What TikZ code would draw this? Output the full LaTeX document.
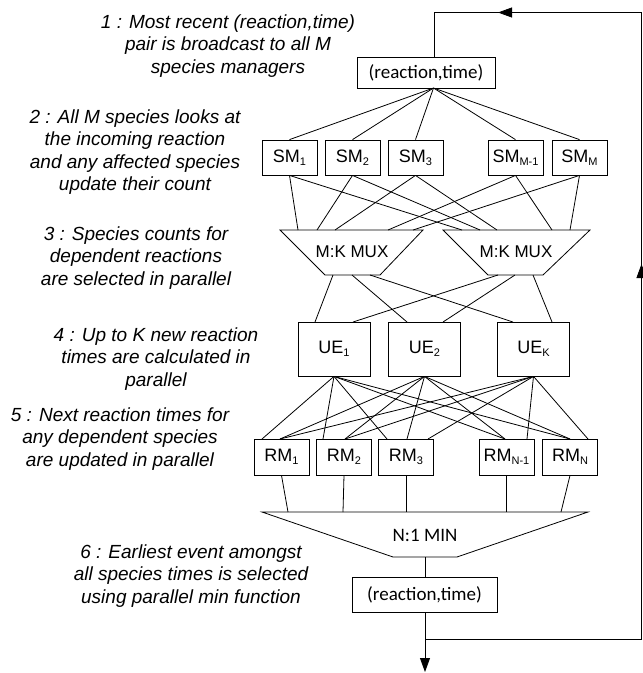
\documentclass[tikz,border=0pt]{standalone}
\usepackage{fontspec}
\setmainfont{Liberation Sans}
\newfontfamily\carl{Carlito}
\usetikzlibrary{arrows.meta}
\newcommand\mysub[1]{\raisebox{-0.3ex}{\fontsize{11}{11}\selectfont #1}}
\begin{document}
\begin{tikzpicture}[x=1pt,y=-1pt,line width=0.8pt,
  box/.style={draw,inner sep=0pt,minimum width=55pt,minimum height=35pt,font=\fontsize{18}{18}\selectfont},
  uebox/.style={draw,inner sep=0pt,minimum width=72pt,minimum height=54pt,font=\fontsize{18}{18}\selectfont},
  rmbox/.style={draw,inner sep=0pt,minimum width=55pt,minimum height=36pt,font=\fontsize{18}{18}\selectfont},
  rt/.style={draw,inner sep=0pt,font=\carl\fontsize{19}{19}\selectfont},
  lbl/.style={align=center,inner sep=0pt,font=\fontsize{19}{22.5}\selectfont\itshape},
  muxtxt/.style={inner sep=0pt,font=\fontsize{17}{17}\selectfont},
  arr/.style={-{Triangle[length=14pt,width=10pt]}}]
\useasboundingbox (0,0) rectangle (643,673);

% labels
\node[lbl] (l1) at (228,46) {1 : Most recent (reaction,time)\\pair is broadcast to all M\\species managers};
\node[lbl] (l2) at (135,152) {2 : All M species looks at\\the incoming reaction\\and any affected species\\update their count};
\node[lbl] (l3) at (136,258) {3 : Species counts for\\dependent reactions\\are selected in parallel};
\node[lbl] (l4) at (156,359) {4 : Up to K new reaction\\times are calculated in\\parallel};
\node[lbl] (l5) at (120,439) {5 : Next reaction times for\\any dependent species\\are updated in parallel};
\node[lbl] (l6) at (191,576) {6 : Earliest event amongst\\all species times is selected\\using parallel min function};

% top box
\node[rt,minimum width=138pt,minimum height=31pt] (top) at (426,72.5) {(reaction,time)};
\coordinate (tb) at (433.5,88);
\coordinate (tt) at (434,57);

% species managers
\node[box] (s1) at (289.5,157.5) {SM\mysub{1}};
\node[box] (s2) at (352.5,157.5) {SM\mysub{2}};
\node[box] (s3) at (415.5,157.5) {SM\mysub{3}};
\node[box] (s4) at (515.5,157.5) {SM\mysub{M-1}};
\node[box] (s5) at (579.5,157.5) {SM\mysub{M}};

% muxes
\draw (280,230) -- (423,230) -- (380,275) -- (325,275) -- cycle;
\draw (443,230) -- (590,230) -- (543,275) -- (488,275) -- cycle;
\node[muxtxt] (mux1) at (352,252) {M:K MUX};
\node[muxtxt] (mux2) at (516,252) {M:K MUX};
\foreach \x [count=\i] in {298,317,335,388,413} \coordinate (ma\i) at (\x,230);
\foreach \x [count=\i] in {462,480,497,552,570} \coordinate (mb\i) at (\x,230);
\foreach \i in {1,...,5} {
  \draw (tb) -- (s\i.north);
  \draw (s\i.south) -- (ma\i);
  \draw (s\i.south) -- (mb\i);
}

% update engines
\node[uebox] (u1) at (334,349) {UE\mysub{1}};
\node[uebox] (u2) at (424.5,349) {UE\mysub{2}};
\node[uebox] (u3) at (533.5,349) {UE\mysub{K}};
\coordinate (la1) at (333,275); \coordinate (la2) at (352,275); \coordinate (la3) at (370,275);
\coordinate (lb1) at (498,275); \coordinate (lb2) at (515,275); \coordinate (lb3) at (533,275);
\coordinate (u1a) at (315,322); \coordinate (u1b) at (353,322);
\coordinate (u2a) at (407,322); \coordinate (u2b) at (443,322);
\coordinate (u3a) at (513,322); \coordinate (u3b) at (552,322);
\draw (la1) -- (u1a);
\draw (la2) -- (u2a);
\draw (la3) -- (u3a);
\draw (lb1) -- (u1b);
\draw (lb2) -- (u2b);
\draw (lb3) -- (u3b);

% reaction managers
\node[rmbox] (r1) at (281.5,457) {RM\mysub{1}};
\node[rmbox] (r2) at (344,457) {RM\mysub{2}};
\node[rmbox] (r3) at (406,457) {RM\mysub{3}};
\node[rmbox] (r4) at (506.5,457) {RM\mysub{N-1}};
\node[rmbox] (r5) at (570,457) {RM\mysub{N}};
\foreach \x [count=\i] in {262,323,387,505,570} {\coordinate (pa\i) at (\x,439); \draw (u1.south) -- (pa\i);}
\foreach \x [count=\i] in {280,345,407,505,570} {\coordinate (pb\i) at (\x,439); \draw (u2.south) -- (pb\i);}
\foreach \x [count=\i] in {280,345,428,527,588} {\coordinate (pc\i) at (\x,439); \draw (u3.south) -- (pc\i);}

% min
\draw (262,512) -- (588,512) -- (457,557) -- (393,557) -- cycle;
\node[rt,draw=none] (min) at (425,535) {N:1 MIN};
\foreach \x [count=\i] in {288,343,406,506.5,561} {\coordinate (m\i) at (\x,512); \draw (r\i.south) -- (m\i);}
\coordinate (minb) at (425,557);

% bottom box
\node[rt,minimum width=145pt,minimum height=35pt] (bot) at (424.5,594.5) {(reaction,time)};
\draw (minb) -- (minb |- bot.north);
\coordinate (out) at (425,672);
\draw[arr] (minb |- bot.south) -- (out);

% feedback loop
\coordinate (br0) at (425,639);
\coordinate (br) at (641.5,639);
\coordinate (tr) at (641.5,12.5);
\coordinate (tl) at (434,12.5);
\coordinate (upa) at (641.5,264);
\coordinate (lefta) at (498,12.5);
\draw (br0) -- (br) -- (tr) -- (tl) -- (tt);
\draw[arr] (br) -- (upa);
\draw[arr] (tr) -- (lefta);
\end{tikzpicture}
\end{document}
